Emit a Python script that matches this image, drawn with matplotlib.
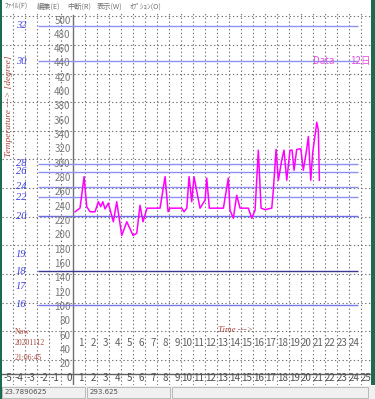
import matplotlib
matplotlib.use('Agg')
import matplotlib.pyplot as plt
from matplotlib.patches import Rectangle

# data
time_h = [0.17, 0.58, 0.92, 1.14, 1.42, 1.83, 2.11, 2.31, 2.48, 2.67, 2.94, 3.36,
          3.64, 4.06, 4.48, 5.00, 5.31, 5.58, 5.83, 6.17, 7.25, 7.67, 7.92, 8.08,
          9.06, 9.25, 9.48, 9.67, 9.89, 10.08, 10.42, 10.58, 11.00, 11.14, 11.36,
          12.53, 12.94, 13.08, 13.36, 13.64, 13.92, 14.61, 14.89, 15.17, 15.44,
          15.67, 16.00, 16.56, 16.69, 16.92, 17.11, 17.39, 17.58, 17.81, 18.08,
          18.25, 18.42, 18.64, 18.98, 19.19, 19.47, 19.61, 19.81, 19.97, 20.31,
          20.44, 20.53]
counts = [227, 232, 276, 234, 227, 227, 241, 234, 241, 231, 239, 213,
          241, 194, 213, 194, 197, 236, 213, 232, 232, 276, 227, 232,
          232, 227, 232, 276, 241, 276, 246, 232, 243, 274, 232,
          232, 274, 229, 218, 250, 232, 232, 218, 229, 313,
          232, 230, 232, 257, 314, 271, 299, 313, 271, 313,
          313, 285, 314, 315, 285, 314, 332, 271, 309, 352,
          341, 271]

temp_labels = ['32', '30', '28', '26', '24', '22', '20', '19', '18', '17', '16']
temp_label_pos = [487, 437, 294, 283, 262, 247, 221, 168, 144, 122, 97]
temp_lines = [487, 437, 294, 283, 262, 247, 221, 144, 97]
temp_line_colors = ['#9090f4', '#9090f4', '#9090f4', '#9090f4', '#9090f4',
                    '#9090f4', '#6a6aea', '#3a3a92', '#7a7aee']

y_ticks = list(range(20, 501, 20))
y_grid = list(range(20, 501, 40))
hours_top = list(range(1, 25))
hours_bottom = list(range(-5, 26))

menu_items = ['ﾌｧｲﾙ(F)', '編集(E)', '中断(R)', '表示(W)', 'ｵﾌﾟｼｮﾝ(O)']
menu_x = [4, 37, 67, 97, 130]
status_values = ['23.7890625', '293.625']

W, H = 375, 399
fig = plt.figure(figsize=(W / 100, H / 100), dpi=100)
fig.patch.set_facecolor('white')

ax = fig.add_axes([2 / W, (H - 385) / H, 369 / W, (385 - 12) / H])
ax.set_xlim(-5.92, 24.83)
ax.set_ylim(-14.9, 505.9)
ax.axis('off')

dots = (0, (1.2, 2.2))
for k in hours_bottom:
    if k != 0:
        ax.axvline(k, color='#707070', lw=0.8, ls=dots, zorder=1)
for v in y_grid:
    ax.axhline(v, color='#707070', lw=0.8, ls=dots, zorder=1)

ax.axhline(0, color='#606060', lw=1.0, zorder=2)
ax.plot([0, 0], [-14.9, 502], color='#707070', lw=1.0, zorder=2)

ax.hlines(temp_lines, -2.92, 23.75, colors=temp_line_colors, lw=1.0, zorder=2)

for lab, v in zip(temp_labels, temp_label_pos):
    ax.text(-4.33, v, lab, color='#3a3ae0', fontsize=7.5, family='Liberation Serif',
            style='italic', ha='center', va='center', zorder=3)

for v in y_ticks:
    ax.text(-0.2, v + 1, str(v), color='#7a7a7a', fontsize=7, family='Noto Sans CJK JP',
            ha='right', va='top', zorder=3)

for k in hours_top:
    ax.text(k - 0.1, 44, str(k), color='#606060', fontsize=7, family='Noto Sans CJK JP',
            ha='right', va='center', zorder=3)
for k in hours_bottom:
    ax.text(k - 0.1, -5.5, str(k), color='#505050', fontsize=7, family='Noto Sans CJK JP',
            ha='right', va='center', zorder=3)

ax.plot(time_h, counts, color='#ff00ff', lw=1.1, zorder=4)

ax.text(-5.3, 374, 'Temperature ---> [degree]', color='#a8443a', fontsize=6.8,
        family='Liberation Serif', style='italic', rotation=90,
        ha='center', va='center', zorder=3)
ax.text(20.0, 438, 'Data', color='#e050e0', fontsize=7, family='Noto Sans CJK JP',
        ha='left', va='center', zorder=3)
ax.text(23.1, 438, '12日', color='#e050e0', fontsize=7, family='Noto Sans CJK JP',
        ha='left', va='center', zorder=3)
ax.text(-4.85, 59, 'Now', color='#a8443a', fontsize=5.5, family='Liberation Serif',
        ha='left', va='center', zorder=3)
ax.text(-4.85, 44, '20201112', color='#a8443a', fontsize=5.5, family='Liberation Serif',
        ha='left', va='center', zorder=3)
ax.text(-4.85, 23, '21:06:45', color='#a8443a', fontsize=5.5, family='Liberation Serif',
        ha='left', va='center', zorder=3)
ax.text(12.1, 62, 'Time --->', color='#a8443a', fontsize=6.5, family='Liberation Serif',
        style='italic', ha='left', va='center', zorder=3)

# window chrome
for m, x in zip(menu_items, menu_x):
    fig.text(x / W, 1 - 7 / H, m, color='#707070', fontsize=5.2,
             family=['Noto Sans CJK JP', 'DejaVu Sans'], ha='left', va='center')

fig.add_artist(Rectangle((0, 0), 1, 13 / H, transform=fig.transFigure,
                         facecolor='#f0f0f0', edgecolor='none'))
for x0, x1 in [(2, 85), (87, 170), (172, 368)]:
    fig.add_artist(Rectangle((x0 / W, 1 / H), (x1 - x0) / W, 11 / H,
                             transform=fig.transFigure, facecolor='#f0f0f0',
                             edgecolor='#b0b0b0', lw=0.6))
fig.text(5 / W, 6.5 / H, status_values[0], color='#505050', fontsize=5,
         family='DejaVu Sans', ha='left', va='center')
fig.text(90 / W, 6.5 / H, status_values[1], color='#505050', fontsize=5,
         family='DejaVu Sans', ha='left', va='center')

fig.add_artist(Rectangle((0, 0), 2 / W, 1, transform=fig.transFigure,
                         facecolor='#1d6b4f', edgecolor='none'))
fig.add_artist(Rectangle((371 / W, 14 / H), 4 / W, 1 - 14 / H, transform=fig.transFigure,
                         facecolor='#1d6b4f', edgecolor='none'))

fig.savefig('out.png', dpi=100)
